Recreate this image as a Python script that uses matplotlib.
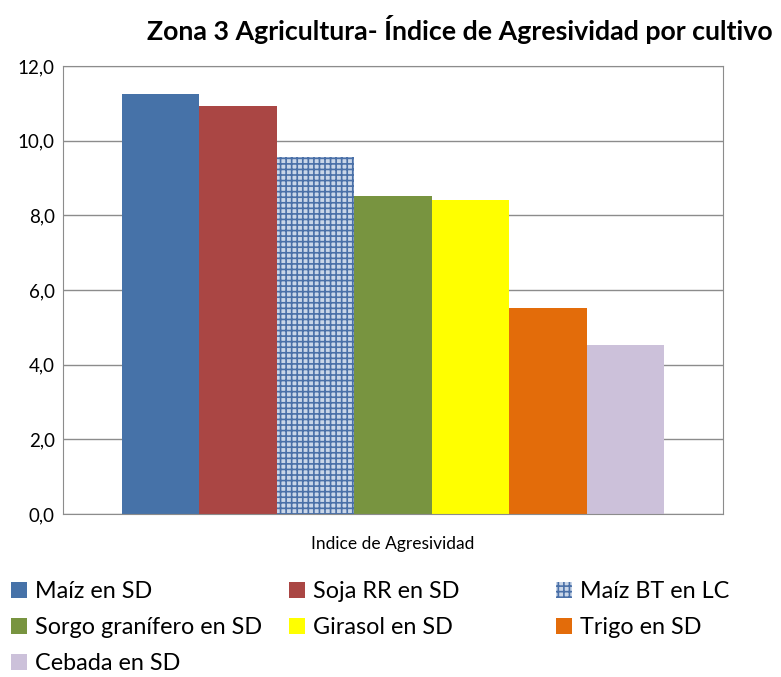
import matplotlib
matplotlib.use("Agg")
import matplotlib.pyplot as plt
from matplotlib.patches import Patch
from matplotlib.ticker import FuncFormatter

plt.rcParams['font.family'] = ['Lato', 'DejaVu Sans']
plt.rcParams['hatch.linewidth'] = 1.2

cultivos = ["Maíz en SD", "Soja RR en SD", "Maíz BT en LC", "Sorgo granífero en SD",
            "Girasol en SD", "Trigo en SD", "Cebada en SD"]
indice = [11.25, 10.93, 9.56, 8.52, 8.41, 5.52, 4.53]
colores = ["#4672A8", "#AA4644", "#C9D6E8", "#789440", "#FFFF00", "#E36C0A", "#CCC1DA"]
tramas = [None, None, "+++", None, None, None, None]

fig = plt.figure(figsize=(7.81, 6.77), dpi=100)
ax = fig.add_axes([63 / 781, 163 / 677, 660 / 781, 448 / 677])

pos = list(range(len(cultivos)))
bars = ax.bar(pos, indice, width=1.0, color=colores, linewidth=0)
for b, h in zip(bars, tramas):
    if h:
        b.set_hatch(h)
        b.set_edgecolor("#4A70A8")

ax.set_xlim(-1.26, 7.26)
ax.set_ylim(0, 12)
ax.set_yticks(range(0, 13, 2))
ax.yaxis.set_major_formatter(FuncFormatter(lambda v, p: f"{v:.1f}".replace(".", ",")))
ax.set_xticks([])
ax.grid(axis="y", color="#8C8C8C", linewidth=1)
ax.set_axisbelow(True)
for s in ax.spines.values():
    s.set_color("#8C8C8C")
ax.tick_params(axis="y", length=0, labelsize=13.5, pad=6)
ax.set_xlabel("Indice de Agresividad", fontsize=12.5, labelpad=16)

fig.text(460 / 781, 1 - 30 / 677, "Zona 3 Agricultura- Índice de Agresividad por cultivo",
         ha="center", va="center", fontsize=19.3, fontweight="bold")

handles = []
for c, h in zip(colores, tramas):
    p = Patch(facecolor=c, edgecolor="#4A70A8" if h else c, hatch=h, linewidth=0)
    handles.append(p)

# legend laid out row by row in three fixed-width columns
columnas = [[0, 3, 6], [1, 4], [2, 5]]
xs = [2, 280, 547]
for col, x in zip(columnas, xs):
    fig.legend([handles[i] for i in col], [cultivos[i] for i in col],
               loc="upper left", bbox_to_anchor=(x / 781, 1 - 572 / 677),
               frameon=False, fontsize=16.8, handlelength=0.65, handleheight=0.65,
               handletextpad=0.35, labelspacing=0.64, borderaxespad=0)

fig.savefig("out.png", dpi=100)
